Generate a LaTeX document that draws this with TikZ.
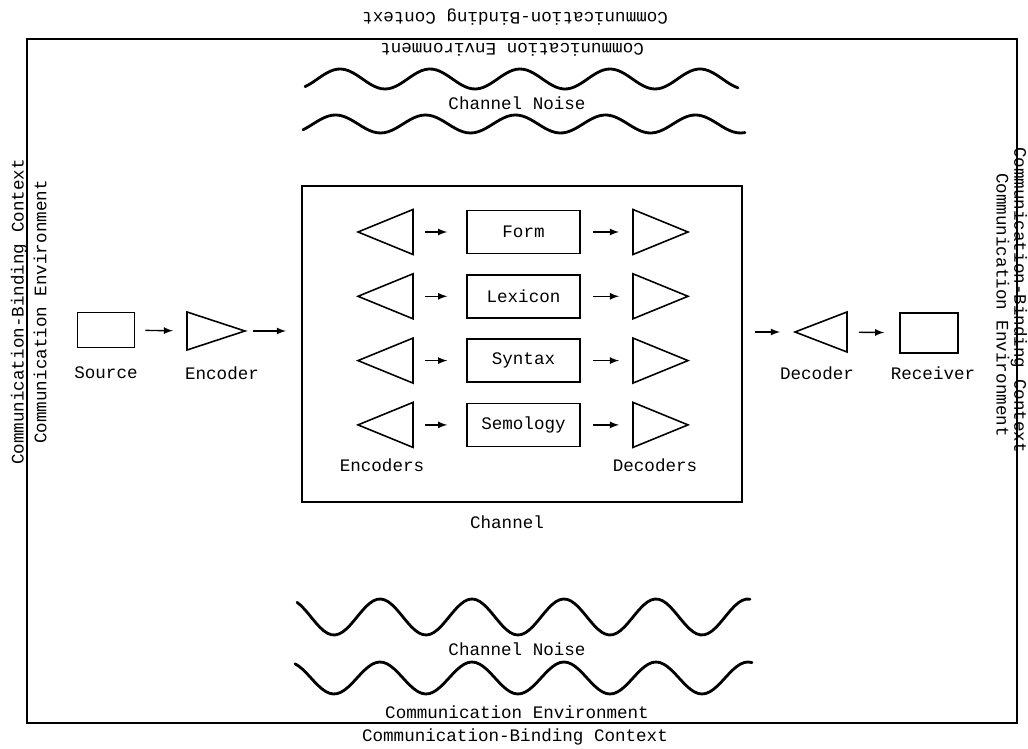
\documentclass[tikz,border=0pt]{standalone}
\usepackage{fontspec}
\setmainfont{Liberation Mono}
\usetikzlibrary{shapes.geometric}

\begin{document}
\begin{tikzpicture}
  [x=0.02cm,y=-0.02cm,
   box/.style={rectangle,draw,line width=0.9pt,inner sep=0pt},
   coder/.style={isosceles triangle,isosceles triangle stretches,draw,line width=0.9pt,
     inner sep=0pt,outer sep=0pt,minimum width=0.9cm,minimum height=1.1cm},
   flow/.style={-latex,line width=0.8pt,shorten <=0.24cm,shorten >=0.3cm},
   noise/.style={line width=1.6pt,line cap=round},
   frame/.style={draw,line width=1.2pt}]
  \useasboundingbox (0,0) rectangle (1028,749);

  % environment frame and its texts
  \draw [frame] (27,39) rectangle (1017,723);
  \node (topctx) at (515,17) [rotate=180] {Communication-Binding Context};
  \node (topenv) at (512,50) [rotate=180] {Communication Environment};
  \node (botenv) at (517,712) {Communication Environment};
  \node (botctx) at (515,737) {Communication-Binding Context};
  \node (leftctx) at (19,312) [rotate=90] {Communication-Binding Context};
  \node (leftenv) at (40,312) [rotate=90] {Communication Environment};
  \node (rightctx) at (1019,300) [rotate=-90] {Communication-Binding Context};
  \node (rightenv) at (1003,305) [rotate=-90] {Communication Environment};

  % noise above and below the channel
  \draw [noise] plot [domain=305:738,samples=120] (\x,{79-10*sin(4*(\x-317.5))});
  \node (toplab) at (517,103) {Channel Noise};
  \draw [noise] plot [domain=303:745,samples=120] (\x,{124-9*sin(4*(\x-313))});
  \draw [noise] plot [domain=297:750,samples=120] (\x,{617+18*sin(3.913*(\x-311))});
  \node (botlab) at (517,649) {Channel Noise};
  \draw [noise] plot [domain=295:752,samples=120] (\x,{678+16*sin(3.913*(\x-311))});

  % main line
  \node (src) at (106,330) [box,minimum width=1.14cm,minimum height=0.7cm] {};
  \node (enc) at (245,331) [coder,anchor=apex,minimum width=0.76cm,minimum height=1.16cm] {};
  \node (chan) at (522,344) [box,line width=1.2pt,minimum width=8.8cm,minimum height=6.32cm] {};
  \node (dec) at (795,332) [coder,shape border rotate=180,anchor=apex,minimum width=0.8cm,minimum height=1.04cm] {};
  \node (rcv) at (929,333) [box,minimum width=1.16cm,minimum height=0.8cm] {};

  \node (srclab) at (106,373) {Source};
  \node (enclab) at (222,373) {Encoder};
  \node (declab) at (817,373) {Decoder};
  \node (rcvlab) at (933,373) {Receiver};
  \node (chanlab) at (507,522) {Channel};

  \draw [flow,shorten <=0.2cm,shorten >=0.28cm] (src) -- (enc);
  \draw [flow,shorten <=0.16cm] (enc.apex) -- (enc.apex -| chan.west);
  \draw [flow] (chan.east |- dec.apex) -- (dec.apex);
  \draw [flow] (dec) -- (rcv);

  % levels inside the channel
  \foreach \lab [count=\i] in {Form,Lexicon,Syntax,Semology}
  {
    \pgfmathsetmacro{\y}{232+64.3*(\i-1)}
    \node (enc\i) at (358,\y) [coder,shape border rotate=180,anchor=apex] {};
    \node (lay\i) at (523.5,\y) [box,minimum width=2.26cm,minimum height=0.86cm] {\lab};
    \node (dec\i) at (688,\y) [coder,anchor=apex] {};
    \draw [flow,shorten >=0.38cm] (enc\i) -- (lay\i);
    \draw [flow,shorten >=0.28cm] (lay\i) -- (dec\i);
  }
  \node (enclist) at (382,465) {Encoders};
  \node (declist) at (655,465) {Decoders};
\end{tikzpicture}
\end{document}
